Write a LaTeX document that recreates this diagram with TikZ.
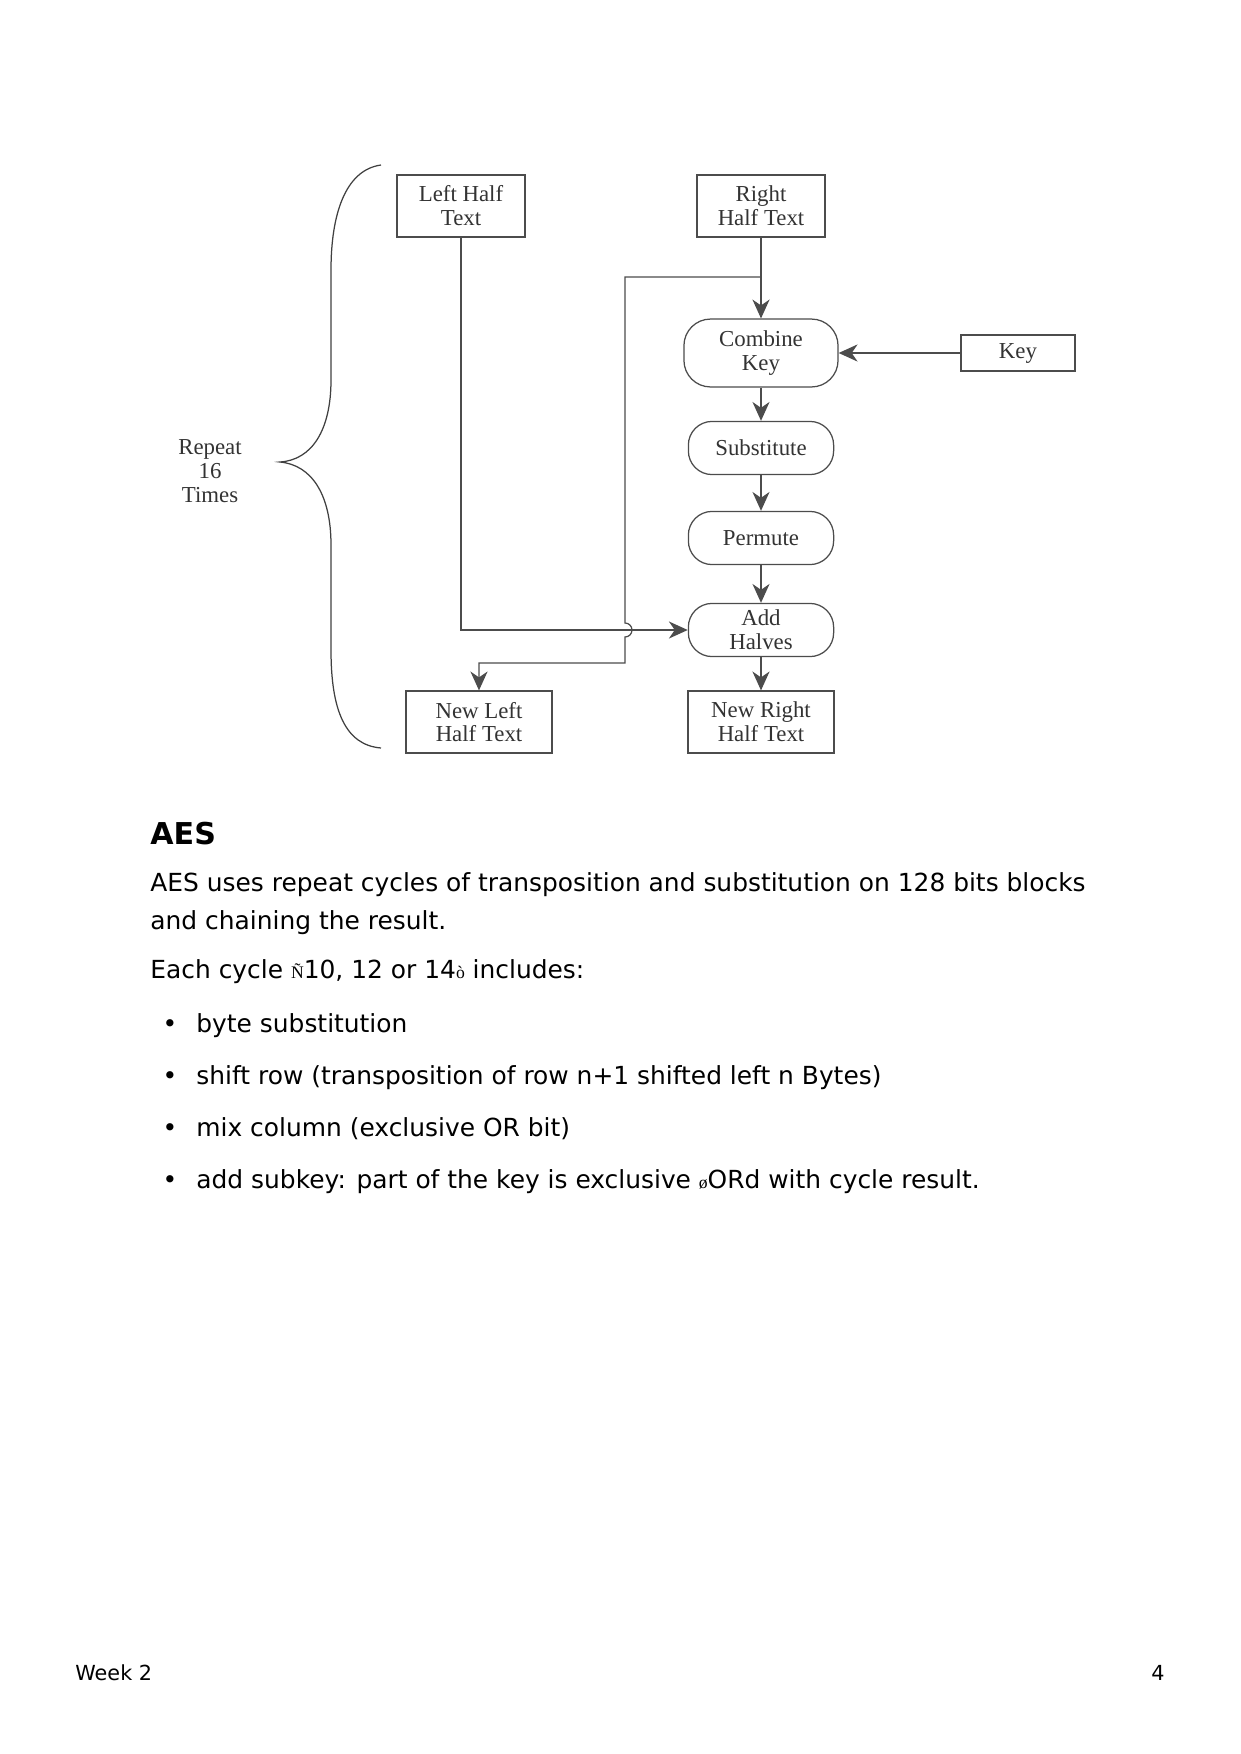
\documentclass[tikz,border=0pt]{standalone}
\usepackage{fontspec}
\setmainfont{DejaVu Sans}
\newfontfamily\figfont{Liberation Serif}
\usetikzlibrary{arrows.meta,positioning}
\tikzset{
    round diagram/.style = {x=0.016935cm, y=-0.016935cm,
                            >={Stealth[length=3.2mm, width=2.9mm, inset=1mm]}},
    flow/.style        = {draw=black!70, semithick},
    fig text/.style    = {font=\figfont\fontsize{11}{11.5}\selectfont,
                          text=black!80, align=center},
    block/.style       = {draw=black!70, semithick, fill=white, fig text,
                          inner sep=0pt},
    textblock/.style   = {block, minimum width=2.17cm, minimum height=1.05cm},
    newblock/.style    = {block, minimum width=2.47cm, minimum height=1.05cm},
    stage/.style       = {block, rounded corners=0.4cm,
                          minimum width=2.46cm, minimum height=0.9cm},
    keyblock/.style    = {block, minimum width=1.93cm, minimum height=0.61cm},
    brace/.style       = {draw=black!75, semithick},
    heading/.style     = {font=\bfseries\fontsize{14.5}{18}\selectfont,
                          anchor=base west, inner sep=0pt},
    body/.style        = {font=\fontsize{12}{18}\selectfont,
                          anchor=base west, inner sep=0pt},
    footer/.style      = {font=\fontsize{10}{12}\selectfont, inner sep=0pt}
}
\newcommand\oddglyph[1]{{\figfont\fontsize{8.5}{9}\selectfont #1}}
\def\loopx{625}
\def\crossy{630}

\begin{document}
\begin{tikzpicture}[round diagram]
\useasboundingbox (0,0) rectangle (1240,1754);

% ================= Text halves and key =================
\node[textblock] (lht) at (461,206) {Left Half\\Text};
\node[textblock] (rht) at (761,206) {Right\\Half Text};
\node[keyblock] (key) at (1018,353) {Key};

% ================= Round stages =================
\node[stage, minimum width=2.61cm, minimum height=1.15cm,
      rounded corners=0.45cm] (comb) at (761,353) {Combine\\Key};
\node[stage] (subs) at (761,448) {Substitute};
\node[stage] (perm) at (761,538) {Permute};
\node[stage] (addh) at (761,\crossy) {Add\\Halves};

% ================= New halves =================
\node[newblock] (nlht) at (479,722) {New Left\\Half Text};
\node[newblock] (nrht) at (761,722) {New Right\\Half Text};

% ================= Connectors =================
\draw[flow,->] (rht) -- (comb);
\draw[flow,->] (key) -- (comb);
\foreach \a/\b in {comb/subs, subs/perm, perm/addh, addh/nrht}
    \draw[flow,->] (\a) -- (\b);
\draw[flow,->] (lht.south) |- (addh.west);

% Right half copied over to the new left half, hopping the left wire.
\coordinate (split) at (761,277);
\coordinate (bypass) at (\loopx,277);
\coordinate (hopin) at (\loopx,\crossy-7);
\coordinate (turn) at (\loopx,663);
\draw[flow,->] (split) -- (bypass) -- (hopin)
    arc[start angle=-90, end angle=90, radius=7] -- (turn) -| (nlht.north);

% ================= Repeat brace =================
\draw[brace] (381,165) .. controls (345,170) and (331,215) .. (331,270)
    -- (331,380) .. controls (331,430) and (312,460) .. (280,462)
    .. controls (312,465) and (331,495) .. (331,545)
    -- (331,650) .. controls (331,710) and (345,745) .. (381,748);
\node[fig text] (rep) at (210,471) {Repeat\\16\\Times};

% ================= Page text =================
\node[heading] (aes) at (150,844) {AES};
\node[body] (l1) at (150,891)
    {AES uses repeat cycles of transposition and substitution on 128 bits blocks};
\node[body] (l2) at (150,929) {and chaining the result.};
\node[body] (l3) at (150,978)
    {Each cycle \oddglyph{Ñ}10, 12 or 14\oddglyph{ò} includes:};
\foreach \y/\txt [count=\i] in {1032/{byte substitution},
        1084/{shift row (transposition of row n+1 shifted left n Bytes)},
        1136/{mix column (exclusive OR bit)},
        1188/{add subkey: part of the key is exclusive \oddglyph{ø}ORd with cycle result.}}
{
    \node[body, anchor=base] (dot\i) at (170,\y) {•};
    \node[body] (item\i) at (196,\y) {\txt};
}

\node[footer, anchor=base west] (week) at (75,1680) {Week 2};
\node[footer, anchor=base east] (page) at (1165,1680) {4};

\end{tikzpicture}
\end{document}
